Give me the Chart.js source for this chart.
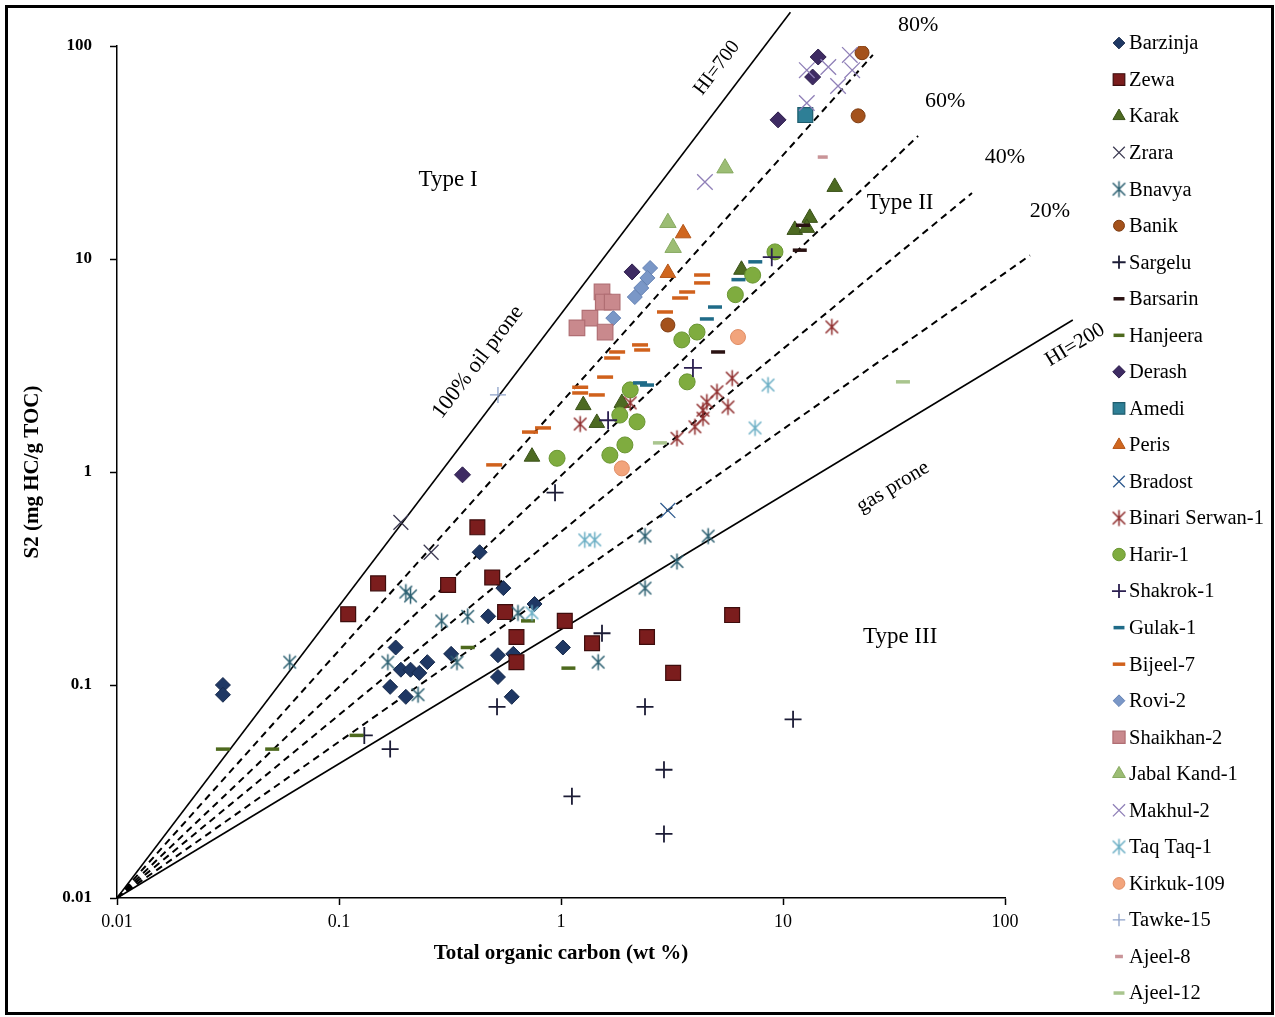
<!DOCTYPE html>
<html>
<head>
<meta charset="utf-8">
<title>Kerogen type plot</title>
<script src="https://cdn.jsdelivr.net/npm/chart.js@4.4.1/dist/chart.umd.min.js"></script>
<style>
  html, body { margin: 0; padding: 0; background: #fff; }
  #wrap { position: relative; width: 1275px; height: 1017px; }
</style>
</head>
<body>
<div id="wrap"><canvas id="kerogenChart" width="1275" height="1017"></canvas></div>
<script>
// Sample values: [TOC (wt %), S2 (mg HC/g TOC)]
const barzinja = [[0.03,0.1],[0.03,0.09],[0.43,0.42],[0.55,0.285],[0.47,0.21],[0.76,0.24],[0.18,0.15],[0.17,0.098],[0.2,0.088],[0.19,0.118],[0.21,0.118],[0.23,0.114],[0.25,0.128],[0.32,0.14],[0.52,0.138],[0.61,0.14],[0.52,0.109],[0.6,0.088],[1.02,0.15]];
const zewa = [[0.11,0.215],[0.15,0.3],[0.31,0.295],[0.42,0.55],[0.49,0.32],[0.56,0.22],[0.63,0.168],[0.63,0.128],[1.04,0.2],[1.38,0.157],[2.44,0.168],[3.2,0.114],[5.9,0.213]];
const karak = [[17.1,21.8],[13.2,15.6],[11.3,13.7],[12.8,14],[6.5,8.9],[1.26,2.06],[1.45,1.7],[1.88,2.11],[0.74,1.18]];
const zrara = [[0.19,0.58],[0.26,0.42]];
const bnavya = [[0.06,0.128],[0.2,0.273],[0.21,0.262],[0.29,0.2],[0.38,0.21],[0.64,0.218],[1.47,0.128],[2.39,0.285],[2.39,0.5],[3.33,0.38],[4.6,0.5],[0.166,0.128],[0.34,0.128],[0.227,0.09]];
const banik = [[22.7,93],[21.8,47],[3.03,4.9]];
const sargelu = [[0.94,0.8],[1.53,0.175],[0.515,0.079],[2.39,0.079],[0.17,0.05],[0.13,0.058],[1.12,0.03],[2.91,0.04],[2.91,0.02],[11.1,0.069]];
const barsarin = [[12.3,14.4],[11.9,11],[5.1,3.66]];
const hanjeera = [[0.03,0.05],[0.05,0.05],[0.12,0.058],[0.38,0.15],[0.71,0.2],[1.08,0.12]];
const derash = [[14.4,88.8],[13.6,71.5],[9.5,45],[2.09,8.7],[0.36,0.97]];
const amedi = [[12.6,47.4]];
const peris = [[3.55,13.2],[3.03,8.6]];
const bradost = [[3.03,0.66]];
const binariSerwan = [[16.6,4.8],[5.9,2.76],[5.04,2.38],[4.54,2.13],[4.36,1.95],[5.65,2.02],[4.36,1.79],[4.01,1.63],[3.33,1.44],[1.22,1.68],[2.05,2.11]];
const harir = [[9.2,10.8],[7.3,8.4],[6.1,6.8],[4.1,4.54],[3.5,4.17],[3.7,2.65],[2.05,2.43],[2.2,1.72],[1.84,1.85],[1.94,1.34],[1.66,1.2],[0.96,1.16]];
const shakrok = [[8.9,10.2],[3.93,3.08],[1.63,1.75]];
const gulak = [[7.5,9.7],[6.3,8.0],[4.94,5.95],[4.54,5.23],[2.44,2.56],[2.27,2.62]];
const bijeel = [[4.32,8.41],[4.32,7.72],[3.7,7.0],[3.44,6.56],[2.94,5.64],[2.27,3.95],[2.32,3.74],[1.79,3.66],[1.7,3.43],[1.58,2.79],[1.22,2.5],[1.22,2.35],[1.45,2.3],[0.725,1.54],[0.83,1.61],[0.5,1.08]];
const rovi = [[2.52,9.07],[2.45,8.15],[2.3,7.31],[2.15,6.63],[1.72,5.28]];
const shaikhan = [[1.53,7.0],[1.55,6.28],[1.7,6.28],[1.35,5.28],[1.18,4.75],[1.58,4.54]];
const jabalKand = [[5.48,26.7],[3.03,14.8],[3.2,11.3]];
const makhul = [[12.8,77],[16,79.7],[17.7,64.9],[20,90.8],[20.5,77],[12.8,54],[4.45,23]];
const taqTaq = [[8.56,2.56],[7.48,1.61],[1.28,0.48],[1.42,0.48],[0.74,0.218]];
const kirkuk = [[6.27,4.3],[1.88,1.04]];
const tawke = [[0.52,2.3]];
const ajeel8 = [[15.1,30.1]];
const ajeel12 = [[2.79,1.37],[34.7,2.65]];

const seriesNames = ['Barzinja','Zewa','Karak','Zrara','Bnavya','Banik','Sargelu','Barsarin','Hanjeera','Derash','Amedi','Peris','Bradost','Binari Serwan-1','Harir-1','Shakrok-1','Gulak-1','Bijeel-7','Rovi-2','Shaikhan-2','Jabal Kand-1','Makhul-2','Taq Taq-1','Kirkuk-109','Tawke-15','Ajeel-8','Ajeel-12'];
const seriesValues = [barzinja, zewa, karak, zrara, bnavya, banik, sargelu, barsarin, hanjeera, derash, amedi, peris, bradost, binariSerwan, harir, shakrok, gulak, bijeel, rovi, shaikhan, jabalKand, makhul, taqTaq, kirkuk, tawke, ajeel8, ajeel12];

// Axis ticks
const decadeTicks = [0.01, 0.1, 1, 10, 100];
const xTickLabels = ['0.01', '0.1', '1', '10', '100'];
const yTickLabels = ['0.01', '0.1', '1', '10', '100'];

// Reference lines, all running out of the origin
const lineOrigin = [0.01, 0.01];
const lineNames = ['HI=700', '80%', '60%', '40%', '20%', 'HI=200'];
const lineEnds = [[10.8, 144], [25.4, 90.8], [40.6, 37.8], [71, 20.4], [129.6, 10.4], [202, 5.17]];

// asterisk marker (| plus x), drawn once per colour
function asterisk(color) {
  const size = 19;
  const c = document.createElement('canvas');
  c.width = size; c.height = size;
  const g = c.getContext('2d');
  const m = size / 2, r = size / 2 - 1.5, d = r * 0.78;
  g.strokeStyle = color;
  g.lineWidth = 1.5;
  g.beginPath();
  g.moveTo(m, m - r); g.lineTo(m, m + r);
  g.moveTo(m - d, m - d); g.lineTo(m + d, m + d);
  g.moveTo(m + d, m - d); g.lineTo(m - d, m + d);
  g.stroke();
  return c;
}

// marker look per series: [pointStyle, radius, fill, border, borderWidth]
const seriesMarkers = [
  ['rectRot', 7.5, '#1f3864', '#172a4c', 1],
  ['rect', 10.5, '#7b1d1d', '#3d0d0d', 1.2],
  ['triangle', 9, '#4d6a22', '#3a5219', 1],
  ['crossRot', 10.5, '#3c3a52', '#3c3a52', 1.3],
  [asterisk('#2b5f70'), 9, '#2b5f70', '#2b5f70', 1],
  ['circle', 7, '#a4521c', '#7e3c12', 1],
  ['cross', 8.5, '#1c1c36', '#1c1c36', 1.8],
  ['line', 7, '#2a1212', '#2a1212', 3.5],
  ['line', 7, '#4e6a1e', '#4e6a1e', 3.5],
  ['rectRot', 8, '#3e2b63', '#2e1f4c', 1],
  ['rect', 10.5, '#2e7f96', '#1e5c6d', 1.2],
  ['triangle', 9, '#d0671f', '#b4561a', 1],
  ['crossRot', 10.5, '#2f5b8f', '#2f5b8f', 1.3],
  [asterisk('#8e2b2b'), 9, '#8e2b2b', '#8e2b2b', 1],
  ['circle', 8, '#7fac3f', '#6a9633', 1],
  ['cross', 9, '#2b1f50', '#2b1f50', 1.8],
  ['line', 7, '#1f6b88', '#1f6b88', 3.5],
  ['line', 8, '#d0611c', '#d0611c', 3.5],
  ['rectRot', 7.5, '#7a97c7', '#6583b5', 1],
  ['rect', 11, '#c9898d', '#b06e73', 1.2],
  ['triangle', 9.5, '#9cbd74', '#88aa62', 1],
  ['crossRot', 11, '#9080b8', '#9080b8', 1.3],
  [asterisk('#6aaec4'), 9, '#6aaec4', '#6aaec4', 1],
  ['circle', 7.5, '#f2a47c', '#e08e66', 1],
  ['cross', 8, '#8ea2c9', '#8ea2c9', 1.3],
  ['line', 5, '#c99498', '#c99498', 3.5],
  ['line', 7, '#a9c58e', '#a9c58e', 3.5]
];

const serif = '"Liberation Serif", "Times New Roman", serif';

const datasets = seriesNames.map((name, i) => {
  const [style, radius, fill, border, width] = seriesMarkers[i];
  return {
    label: name,
    data: seriesValues[i].map(p => ({ x: p[0], y: p[1] })),
    pointStyle: style,
    pointRadius: radius,
    pointHoverRadius: radius,
    backgroundColor: fill,
    borderColor: border,
    borderWidth: width,
    order: seriesNames.length - i
  };
});

lineNames.forEach((name, i) => {
  datasets.push({
    label: name,
    data: [{ x: lineOrigin[0], y: lineOrigin[1] }, { x: lineEnds[i][0], y: lineEnds[i][1] }],
    showLine: true,
    pointRadius: 0,
    borderColor: '#000',
    borderWidth: name.startsWith('HI') ? 1.6 : 2,
    borderDash: name.startsWith('HI') ? [] : [7, 5],
    clip: false,
    order: 100
  });
});

// text placed on the plot: [text, x, y, font size, follows line index or -1]
const plotNotes = [
  ['Type I', 0.31, 23.5, 23, -1],
  ['Type II', 33.7, 18.3, 23, -1],
  ['Type III', 33.7, 0.168, 23, -1],
  ['HI=700', 5.04, 78.9, 20, 0],
  ['100% oil prone', 0.423, 3.28, 22, 0],
  ['gas prone', 31.3, 0.85, 21, 5],
  ['HI=200', 207, 3.95, 21, 5],
  ['80%', 40.6, 125.6, 22, -1],
  ['60%', 53.7, 55.2, 22, -1],
  ['40%', 100, 30.1, 22, -1],
  ['20%', 159.5, 16.8, 22, -1]
];

const notesPlugin = {
  id: 'notes',
  beforeDraw(chart) {
    const ctx = chart.ctx;
    ctx.save();
    ctx.fillStyle = '#fff';
    ctx.fillRect(0, 0, chart.width, chart.height);
    ctx.restore();
  },
  afterDraw(chart) {
    const { ctx, scales: { x, y } } = chart;
    ctx.save();
    ctx.fillStyle = '#000';
    ctx.textAlign = 'center';
    ctx.textBaseline = 'middle';
    plotNotes.forEach(([text, vx, vy, size, li]) => {
      let angle = 0;
      if (li >= 0) {
        const x0 = x.getPixelForValue(lineOrigin[0]), y0 = y.getPixelForValue(lineOrigin[1]);
        const x1 = x.getPixelForValue(lineEnds[li][0]), y1 = y.getPixelForValue(lineEnds[li][1]);
        angle = Math.atan2(y1 - y0, x1 - x0);
      }
      ctx.save();
      ctx.translate(x.getPixelForValue(vx), y.getPixelForValue(vy));
      ctx.rotate(angle);
      ctx.font = size + 'px ' + serif;
      ctx.fillText(text, 0, 0);
      ctx.restore();
    });

    // legend down the right side
    ctx.textAlign = 'left';
    ctx.font = '20.5px ' + serif;
    seriesNames.forEach((name, i) => {
      const ds = chart.data.datasets[i];
      const ly = 43 + i * 36.54;
      ctx.save();
      ctx.fillStyle = ds.backgroundColor;
      ctx.strokeStyle = ds.borderColor;
      ctx.lineWidth = ds.borderWidth;
      Chart.helpers.drawPoint(ctx, {
        pointStyle: ds.pointStyle,
        radius: ds.pointRadius * 0.78,
        borderWidth: ds.borderWidth,
        rotation: 0
      }, 1119, ly);
      ctx.restore();
      ctx.fillText(name, 1129, ly + 1);
    });

    // outer frame
    ctx.strokeStyle = '#000';
    ctx.lineWidth = 3;
    ctx.strokeRect(6.5, 6.5, 1266, 1007);
    ctx.restore();
  }
};

new Chart(document.getElementById('kerogenChart'), {
  type: 'scatter',
  data: { datasets },
  options: {
    responsive: false,
    animation: false,
    events: [],
    layout: { padding: { top: 46, right: 270, bottom: 0, left: 0 } },
    plugins: { legend: { display: false }, tooltip: { enabled: false } },
    scales: {
      x: {
        type: 'logarithmic',
        min: 0.01,
        max: 100,
        afterBuildTicks: s => { s.ticks = decadeTicks.map(v => ({ value: v })); },
        afterFit: s => { s.height = 119; },
        ticks: {
          callback: (v, i) => xTickLabels[i],
          font: { family: serif, size: 18 },
          color: '#000',
          padding: 6,
          maxRotation: 0,
          autoSkip: false
        },
        grid: { display: true, drawOnChartArea: false, drawTicks: true, tickLength: 7, tickColor: '#000', tickWidth: 1.5 },
        border: { display: true, color: '#000', width: 1.5 },
        title: {
          display: true,
          text: 'Total organic carbon (wt %)',
          font: { family: serif, size: 21, weight: 'bold' },
          color: '#000',
          padding: { top: 0, bottom: 51 }
        }
      },
      y: {
        type: 'logarithmic',
        min: 0.01,
        max: 100,
        afterBuildTicks: s => { s.ticks = decadeTicks.map(v => ({ value: v })); },
        afterFit: s => { s.width = 117; },
        ticks: {
          callback: (v, i) => yTickLabels[i],
          font: { family: serif, size: 17, weight: 'bold' },
          color: '#000',
          padding: 18,
          autoSkip: false
        },
        grid: { display: true, drawOnChartArea: false, drawTicks: true, tickLength: 7, tickColor: '#000', tickWidth: 1.5 },
        border: { display: true, color: '#000', width: 1.5 },
        title: {
          display: true,
          text: 'S2 (mg HC/g TOC)',
          font: { family: serif, size: 21, weight: 'bold' },
          color: '#000',
          padding: { top: 20, bottom: 0 }
        }
      }
    }
  },
  plugins: [notesPlugin]
});
</script>
</body>
</html>
